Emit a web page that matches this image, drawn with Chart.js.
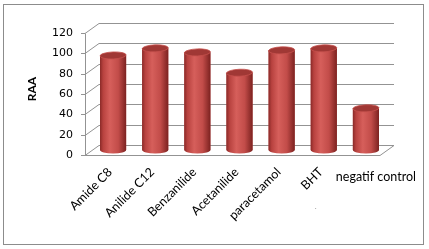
<!DOCTYPE html>
<html>
<head>
<meta charset="utf-8">
<script src="https://cdn.jsdelivr.net/npm/chart.js@4.4.0/dist/chart.umd.min.js"></script>
<style>
  html, body { margin: 0; padding: 0; background: #fff; }
  #wrap { width: 429px; height: 249px; }
</style>
</head>
<body>
<div id="wrap"><canvas id="raaChart" width="429" height="249"></canvas></div>
<script>
// data
const categories = ['Amide C8', 'Anilide C12', 'Benzanilide', 'Acetanilide', 'paracetamol', 'BHT', 'negatif control'];
const raaValues = [93, 100, 96, 76, 98, 100, 41];
const yTickValues = [0, 20, 40, 60, 80, 100, 120];

// fake 3D depth (front plane vs back wall)
const DX = 7, DY = 5;
const gridColor = '#939393';

// frame, back wall grid, front axis, floor
const wallPlugin = {
  id: 'wall',
  beforeDraw(chart) {
    const ctx = chart.ctx;
    ctx.save();
    ctx.fillStyle = '#fff';
    ctx.fillRect(0, 0, chart.width, chart.height);
    ctx.strokeStyle = '#8c8c8c';
    ctx.lineWidth = 1;
    ctx.strokeRect(3.5, 4.5, 420, 240);
    ctx.restore();
  },
  beforeDatasetsDraw(chart) {
    const ctx = chart.ctx;
    const y = chart.scales.y;
    const L = chart.chartArea.left, R = chart.chartArea.right;
    ctx.save();
    ctx.strokeStyle = gridColor;
    ctx.lineWidth = 1;
    ctx.beginPath();
    yTickValues.forEach(v => {
      const py = Math.round(y.getPixelForValue(v)) + 0.5;
      // back wall line
      ctx.moveTo(L + DX, py - DY);
      ctx.lineTo(R + DX, py - DY);
      // side wall diagonal
      ctx.moveTo(L - DX, py + DY);
      ctx.lineTo(L + DX, py - DY);
      // small tick on front axis
      ctx.moveTo(L - DX - 4, py + DY);
      ctx.lineTo(L - DX, py + DY);
    });
    const y0 = Math.round(y.getPixelForValue(0)) + 0.5;
    const yTop = Math.round(y.getPixelForValue(120)) + 0.5;
    // front axis
    ctx.moveTo(L - DX + 0.5, y0 + DY);
    ctx.lineTo(L - DX + 0.5, yTop + DY);
    // floor front edge and right edge
    ctx.moveTo(L - DX, y0 + DY);
    ctx.lineTo(R - DX, y0 + DY);
    ctx.lineTo(R + DX, y0 - DY);
    ctx.stroke();
    ctx.restore();
  }
};

// turn the flat bars into shaded cylinders
const cylinderPlugin = {
  id: 'cylinder',
  afterDatasetsDraw(chart) {
    const ctx = chart.ctx;
    const meta = chart.getDatasetMeta(0);
    meta.data.forEach(bar => {
      const x = bar.x, top = bar.y, base = bar.base;
      const rx = bar.width / 2, ry = 3.5;
      const g = ctx.createLinearGradient(x - rx, 0, x + rx, 0);
      g.addColorStop(0, '#8a2a28');
      g.addColorStop(0.12, '#b8423f');
      g.addColorStop(0.38, '#d65f5b');
      g.addColorStop(0.7, '#c24c49');
      g.addColorStop(1, '#7c2220');
      ctx.save();
      ctx.beginPath();
      ctx.moveTo(x - rx, top);
      ctx.lineTo(x - rx, base);
      ctx.ellipse(x, base, rx, ry, 0, Math.PI, 0, true);
      ctx.lineTo(x + rx, top);
      ctx.closePath();
      ctx.fillStyle = g;
      ctx.fill();
      // top cap
      ctx.beginPath();
      ctx.ellipse(x, top, rx, ry, -0.04, 0, Math.PI * 2);
      ctx.fillStyle = '#a03835';
      ctx.fill();
      ctx.strokeStyle = '#c5504c';
      ctx.lineWidth = 0.8;
      ctx.stroke();
      ctx.restore();
    });
  }
};

// category labels: rotated, except the last one
const xLabelPlugin = {
  id: 'xLabels',
  afterDraw(chart) {
    const ctx = chart.ctx;
    const xs = chart.scales.x;
    ctx.save();
    ctx.fillStyle = '#000';
    ctx.font = '12.5px Lato, "Open Sans", sans-serif';
    categories.forEach((c, i) => {
      const px = xs.getPixelForValue(i);
      if (i === categories.length - 1) {
        ctx.textAlign = 'center';
        ctx.textBaseline = 'middle';
        ctx.fillText(c, px + 10, 177);
      } else {
        ctx.save();
        ctx.translate(px - 3, 170);
        ctx.rotate(-Math.PI / 4);
        ctx.textAlign = 'right';
        ctx.textBaseline = 'middle';
        ctx.fillText(c, 0, 0);
        ctx.restore();
      }
    });
    ctx.fillStyle = '#999';
    ctx.font = '8px Lato, sans-serif';
    ctx.textAlign = 'center';
    ctx.fillText('.', xs.getPixelForValue(5) - 8, 206);
    ctx.restore();
  }
};

new Chart(document.getElementById('raaChart'), {
  type: 'bar',
  data: {
    labels: categories,
    datasets: [{
      label: 'RAA',
      data: raaValues,
      backgroundColor: '#c0504d',
      borderWidth: 0,
      categoryPercentage: 1,
      barPercentage: 0.62
    }]
  },
  options: {
    responsive: false,
    animation: false,
    devicePixelRatio: 1,
    layout: { padding: { left: 0, top: 28, right: 42, bottom: 99 } },
    plugins: { legend: { display: false }, tooltip: { enabled: false } },
    scales: {
      x: { display: false },
      y: {
        min: 0,
        max: 120,
        afterFit: s => { s.width = 92; },
        afterBuildTicks: s => { s.ticks = yTickValues.map(v => ({ value: v })); },
        grid: { display: false, drawTicks: false },
        border: { display: false },
        ticks: {
          padding: 19,
          labelOffset: 5,
          color: '#000',
          font: { family: '"DejaVu Sans"', size: 11 }
        },
        title: {
          display: true,
          text: 'RAA',
          color: '#000',
          padding: { top: 25, bottom: 0 },
          font: { family: 'Lato', size: 12, weight: 'bold' }
        }
      }
    }
  },
  plugins: [wallPlugin, cylinderPlugin, xLabelPlugin]
});
</script>
</body>
</html>
